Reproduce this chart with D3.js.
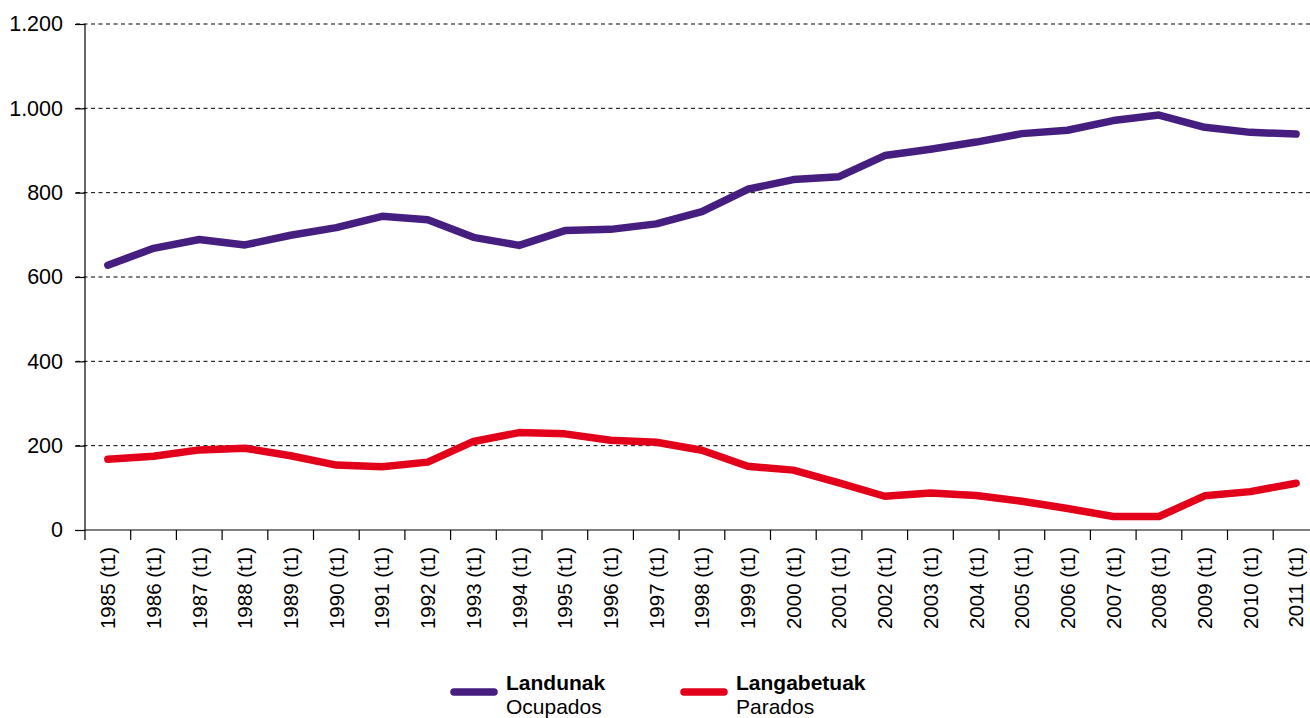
<!DOCTYPE html>
<html>
<head>
<meta charset="utf-8">
<script src="https://cdn.jsdelivr.net/npm/d3@7/dist/d3.min.js"></script>
<style>
  body { margin: 0; background: #fff; }
  text { font-family: "Liberation Sans", Arial, sans-serif; fill: #000; }
</style>
</head>
<body>
<div id="chart"></div>
<script>
(function () {
    'use strict';
    var years = d3.range(1985, 2012);
    var categories = years.map(function (y) { return y + ' (t1)'; });
    var landunak = [628, 668, 689, 676, 699, 717, 744, 736, 694, 675, 710, 713, 726, 755, 808, 831, 838, 888, 903, 920, 940, 948, 971, 984, 955, 943, 939];
    var langabetuak = [168, 175, 190, 194, 176, 154, 150, 161, 210, 231, 228, 213, 208, 189, 151, 142, 112, 80, 88, 82, 68, 51, 32, 32, 81, 91, 111];
    var yTicks = [0, 200, 400, 600, 800, 1000, 1200];
    var series = [
        { bold: 'Landunak', sub: 'Ocupados', values: landunak, color: '#461e80' },
        { bold: 'Langabetuak', sub: 'Parados', values: langabetuak, color: '#e2001a' }
    ];

    var width = 1310;
    var height = 718;
    var left = 85, top = 24, bottom = 530;
    var step = 45.7;

    var svg = d3.select('#chart')
        .append('svg')
        .attr('width', width)
        .attr('height', height);

    var x = d3.scaleBand()
        .domain(categories)
        .range([left, left + step * categories.length]);
    var y = d3.scaleLinear().domain([0, 1200]).range([bottom, top]);

    // dashed gridlines
    svg.append('g').selectAll('line')
        .data(yTicks.filter(function (d) { return d > 0; }))
        .enter().append('line')
        .attr('x1', 76).attr('x2', width)
        .attr('y1', function (d) { return y(d); })
        .attr('y2', function (d) { return y(d); })
        .attr('stroke', '#000')
        .attr('stroke-width', 1)
        .attr('stroke-dasharray', '4,3.5');

    // y axis
    var yAxis = svg.append('g')
        .attr('transform', 'translate(' + left + ',0)')
        .call(d3.axisLeft(y).tickValues(yTicks).tickSize(10).tickPadding(12)
            .tickFormat(function (d) { return d3.format(',')(d).replace(',', '.'); }));
    yAxis.selectAll('text').style('font-size', '21.5px');
    yAxis.selectAll('line, path').attr('stroke', '#000').attr('stroke-width', 1.2);
    yAxis.select('.domain').attr('d', 'M0,' + top + 'V' + bottom);

    // x axis
    var xAxis = svg.append('g')
        .attr('transform', 'translate(0,' + bottom + ')')
        .call(d3.axisBottom(x).tickSize(0).tickPadding(0));
    xAxis.select('.domain').attr('d', 'M' + left + ',0H' + width).attr('stroke', '#000').attr('stroke-width', 1.2);
    xAxis.selectAll('.tick text')
        .style('font-size', '20.5px')
        .attr('text-anchor', 'end')
        .attr('transform', 'rotate(-90)')
        .attr('x', -17)
        .attr('y', 0)
        .attr('dy', '0.36em');
    svg.append('g').selectAll('line')
        .data(categories)
        .enter().append('line')
        .attr('x1', function (d) { return x(d); })
        .attr('x2', function (d) { return x(d); })
        .attr('y1', bottom).attr('y2', bottom + 10)
        .attr('stroke', '#000').attr('stroke-width', 1.2);

    // lines
    var line = d3.line()
        .x(function (d, i) { return x(categories[i]) + x.bandwidth() / 2; })
        .y(function (d) { return y(d); });
    series.forEach(function (s) {
        svg.append('path')
            .datum(s.values)
            .attr('d', line)
            .attr('fill', 'none')
            .attr('stroke', s.color)
            .attr('stroke-width', 7.5)
            .attr('stroke-linejoin', 'round')
            .attr('stroke-linecap', 'round');
    });

    // legend
    var legendX = [454, 684];
    series.forEach(function (s, i) {
        var g = svg.append('g').attr('transform', 'translate(' + legendX[i] + ',692)');
        g.append('line')
            .attr('x1', 0).attr('x2', 40)
            .attr('stroke', s.color).attr('stroke-width', 7.5)
            .attr('stroke-linecap', 'round');
        g.append('text').attr('x', 52).attr('y', -2)
            .style('font-size', '21px').style('font-weight', 'bold')
            .text(s.bold);
        g.append('text').attr('x', 52).attr('y', 22)
            .style('font-size', '21px')
            .text(s.sub);
    });
}());
</script>
</body>
</html>
